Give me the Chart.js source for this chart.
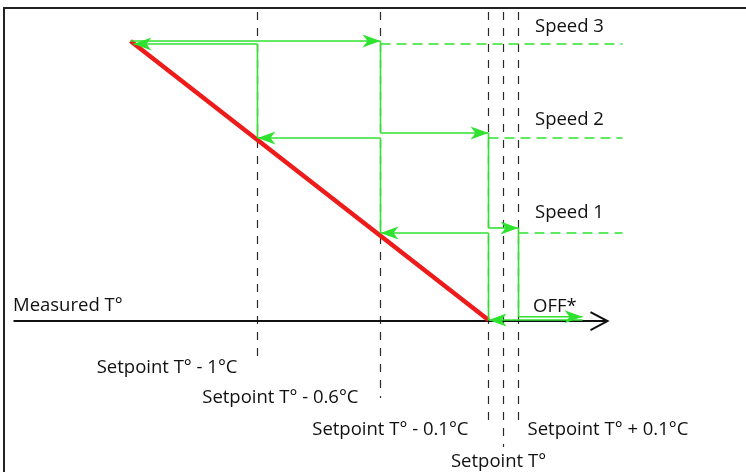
<!DOCTYPE html>
<html>
<head>
<meta charset="utf-8">
<script src="https://cdn.jsdelivr.net/npm/chart.js@4.4.0/dist/chart.umd.min.js"></script>
<style>
  html, body { margin: 0; padding: 0; background: #fff; }
  #wrap { position: relative; width: 746px; height: 472px; overflow: hidden; }
  #frame { position: absolute; left: 3px; top: 7px; width: 800px; height: 520px;
           border-left: 2px solid #222; border-top: 2px solid #222; }
  canvas { position: absolute; left: 0; top: 0; }
</style>
</head>
<body>
<div id="wrap"><div id="frame"></div><canvas id="chart" width="746" height="472"></canvas></div>
<script>
// =======================
// Data (x = position along the measured temperature axis, y = fan speed level)
const speedNames = ['OFF*', 'Speed 1', 'Speed 2', 'Speed 3'];
const riseX = [130, 380, 488, 518, 582];       // switch points when temperature rises
const riseY = [3.033, 2.033, 1.0, 0.036];       // levels on the rising path
const fallX = [582, 488, 380, 257, 133];       // switch points when temperature falls
const fallY = [0, 0.946, 1.978, 3.0];           // levels on the falling path
const speedLineStart = [518, 488, 380];         // dashed speed guides (speed 1..3)
const speedLineEnd = 622;
const demandX = [130, 488];                     // red demand line
const demandY = [3.033, 0];
const thresholdNames = ['Setpoint T° - 1°C', 'Setpoint T° - 0.6°C', 'Setpoint T° - 0.1°C', 'Setpoint T°', 'Setpoint T° + 0.1°C'];
const thresholdX = [257, 380, 488, 503, 518];
const thresholdLow = [-0.457, -0.848, -1.087, -1.38, -1.087];
const thresholdHigh = 3.348;
const axisStart = 13, axisEnd = 607;

const GREEN = '#2fe22f';
const FONT = '18.5px "Open Sans"';

// =======================
// Build datasets
const datasets = [];
const arrows = [];

function seg(points, color, width, dash, order) {
  datasets.push({
    data: points.map(p => ({x: p[0], y: p[1]})),
    borderColor: color, borderWidth: width, borderDash: dash || [],
    showLine: true, pointRadius: 0, fill: false, tension: 0, order: order
  });
}

// dashed setpoint thresholds
thresholdX.forEach((x, i) => seg([[x, thresholdHigh], [x, thresholdLow[i]]], '#2a2a2a', 1.2, [8, 8], 5));

// measured T axis
seg([[axisStart, -0.012], [axisEnd, -0.012]], '#111', 2, null, 4);
arrows.push({x: axisEnd, y: -0.012, dir: 1, open: true});

// green dashed speed guides
speedLineStart.forEach((x, i) => seg([[x, fallY[i + 1]], [speedLineEnd, fallY[i + 1]]], GREEN, 1.5, [10, 6], 3));

// red demand line
seg([[demandX[0], demandY[0]], [demandX[1], demandY[1]]], '#ee1b1b', 4.5, null, 2);

// hysteresis paths
function path(xs, ys, dir) {
  for (let i = 0; i < ys.length; i++) {
    seg([[xs[i], ys[i]], [xs[i + 1], ys[i]]], GREEN, 1.6, null, 1);
    arrows.push({x: xs[i + 1], y: ys[i], dir: dir});
    if (i < ys.length - 1) seg([[xs[i + 1], ys[i]], [xs[i + 1], ys[i + 1]]], GREEN, 1.6, null, 1);
  }
}
path(riseX, riseY, 1);
path(fallX, fallY, -1);

// =======================
// Plugin: arrowheads and text
const decor = {
  id: 'decor',
  afterDatasetsDraw(chart) {
    const ctx = chart.ctx, xs = chart.scales.x, ys = chart.scales.y;
    ctx.save();
    arrows.forEach(a => {
      const px = xs.getPixelForValue(a.x), py = ys.getPixelForValue(a.y);
      if (a.open) {
        ctx.strokeStyle = '#111'; ctx.lineWidth = 2;
        ctx.beginPath();
        ctx.moveTo(px - 17, py - 9); ctx.lineTo(px, py); ctx.lineTo(px - 17, py + 9);
        ctx.stroke();
      } else {
        const d = a.dir;
        ctx.fillStyle = GREEN;
        ctx.beginPath();
        ctx.moveTo(px, py);
        ctx.lineTo(px - d * 18, py - 6.5);
        ctx.lineTo(px - d * 13, py);
        ctx.lineTo(px - d * 18, py + 6.5);
        ctx.closePath();
        ctx.fill();
      }
    });

    ctx.fillStyle = '#111';
    ctx.font = FONT;
    ctx.textBaseline = 'middle';
    // speed labels
    const speedLabelY = [307, 213, 120, 27];
    speedNames.forEach((s, i) => {
      ctx.textAlign = 'left';
      ctx.fillText(s, i === 0 ? 533 : 535, speedLabelY[i]);
    });
    // axis label
    ctx.fillText('Measured T°', axisStart, 306);
    // threshold labels
    const lab = [[-20, 368, 'right'], [-22, 398, 'right'], [-20, 430, 'right'], [-5, 462, 'center'], [9, 430, 'left']];
    thresholdNames.forEach((t, i) => {
      ctx.textAlign = lab[i][2];
      ctx.fillText(t, xs.getPixelForValue(thresholdX[i]) + lab[i][0], lab[i][1]);
    });
    ctx.restore();
  }
};

// =======================
// Chart
new Chart(document.getElementById('chart'), {
  type: 'scatter',
  data: {datasets: datasets},
  options: {
    responsive: false,
    animation: false,
    devicePixelRatio: 1,
    layout: {padding: 0},
    plugins: {legend: {display: false}, tooltip: {enabled: false}},
    scales: {
      x: {type: 'linear', min: -0.5, max: 745.5, display: false},
      y: {type: 'linear', min: -1.652, max: 3.478, display: false}
    }
  },
  plugins: [decor]
});
</script>
</body>
</html>
